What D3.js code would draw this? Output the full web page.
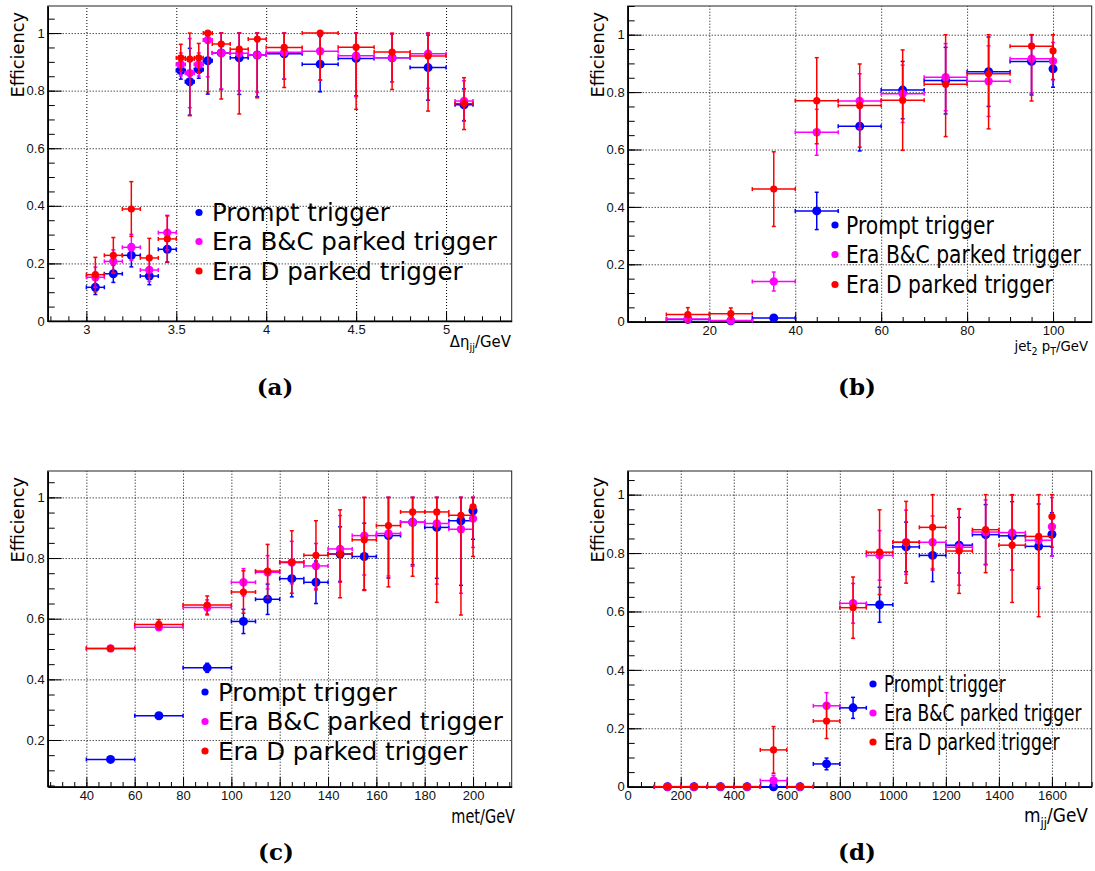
<!DOCTYPE html>
<html>
<head>
<meta charset="utf-8">
<script src="https://cdn.jsdelivr.net/npm/d3@7"></script>
<style>
  html, body { margin: 0; padding: 0; background: #fff; }
  svg { display: block; }
  .tick text { font-family: "Liberation Sans", Arial, sans-serif; font-size: 13px; fill: #111; }
</style>
</head>
<body>
<svg id="fig" width="1095" height="871"></svg>
<script>
// ---------- shared ----------
const seriesLabels = ["Prompt trigger", "Era B&C parked trigger", "Era D parked trigger"];
const seriesColors = ["#0000ff", "#ff00ff", "#ff0000"];
const effTicks = [0, 0.2, 0.4, 0.6, 0.8, 1];

// ---------- (a) Δη_jj ----------
const detaTicks = [3, 3.5, 4, 4.5, 5];
const detaCentres = [3.05, 3.15, 3.25, 3.35, 3.45, 3.525, 3.575, 3.625, 3.675, 3.75, 3.85, 3.95, 4.1, 4.3, 4.5, 4.7, 4.9, 5.1];
const detaHalf    = [0.05, 0.05, 0.05, 0.05, 0.05, 0.025, 0.025, 0.025, 0.025, 0.05, 0.05, 0.05, 0.1, 0.1, 0.1, 0.1, 0.1, 0.05];
const detaPrompt    = [0.117, 0.164, 0.228, 0.156, 0.249, 0.870, 0.831, 0.873, 0.904, 0.931, 0.914, 0.924, 0.928, 0.892, 0.912, 0.914, 0.880, 0.751];
const detaPromptErr = [0.025, 0.030, 0.040, 0.030, 0.045, 0.030, 0.116, 0.030, 0.116, 0.127, 0.127, 0.145, 0.088, 0.096, 0.130, 0.083, 0.113, 0.055];
const detaBC        = [0.152, 0.207, 0.256, 0.177, 0.307, 0.891, 0.861, 0.891, 0.976, 0.931, 0.930, 0.924, 0.933, 0.937, 0.921, 0.914, 0.928, 0.764];
const detaBCErr     = [0.035, 0.040, 0.045, 0.040, 0.060, 0.040, 0.120, 0.040, 0.128, 0.125, 0.130, 0.130, 0.093, 0.100, 0.142, 0.083, 0.120, 0.070];
const detaD         = [0.161, 0.228, 0.389, 0.219, 0.285, 0.914, 0.910, 0.914, 1.000, 0.962, 0.944, 0.979, 0.950, 1.000, 0.951, 0.934, 0.920, 0.755];
const detaDErr      = [0.060, 0.062, 0.095, 0.068, 0.080, 0.047, 0.197, 0.050, 0.204, 0.191, 0.225, 0.204, 0.139, 0.163, 0.216, 0.130, 0.191, 0.090];

// ---------- (b) jet2 pT ----------
const jetTicks = [20, 40, 60, 80, 100];
const jetCentres = [15, 25, 35, 45, 55, 65, 75, 85, 95, 100];
const jetHalf    = [5, 5, 5, 5, 5, 5, 5, 5, 5, 0];
const jetPrompt    = [0.008, 0.003, 0.013, 0.386, 0.681, 0.807, 0.840, 0.871, 0.907, 0.881];
const jetPromptErr = [0.005, 0.004, 0.005, 0.065, 0.086, 0.100, 0.116, 0.121, 0.117, 0.064];
const jetBC        = [0.009, 0.004, 0.140, 0.660, 0.769, 0.794, 0.852, 0.838, 0.916, 0.908];
const jetBCErr     = [0.008, 0.006, 0.033, 0.080, 0.095, 0.100, 0.117, 0.123, 0.120, 0.065];
const jetD         = [0.025, 0.028, 0.462, 0.770, 0.753, 0.772, 0.827, 0.864, 0.960, 0.944];
const jetDErr      = [0.024, 0.020, 0.130, 0.150, 0.145, 0.175, 0.182, 0.192, 0.191, 0.100];

// ---------- (c) met ----------
const metTicks = [40, 60, 80, 100, 120, 140, 160, 180, 200];
const metCentres = [50, 70, 90, 105, 115, 125, 135, 145, 155, 165, 175, 185, 195, 200];
const metHalf    = [10, 10, 10, 5, 5, 5, 5, 5, 5, 5, 5, 5, 5, 0];
const metPrompt    = [0.136, 0.280, 0.438, 0.591, 0.664, 0.732, 0.720, 0.813, 0.805, 0.874, 0.918, 0.901, 0.923, 0.956];
const metPromptErr = [0.004, 0.005, 0.015, 0.040, 0.050, 0.060, 0.070, 0.090, 0.110, 0.140, 0.140, 0.168, 0.213, 0.094];
const metBC        = [0.502, 0.572, 0.637, 0.720, 0.753, 0.785, 0.774, 0.830, 0.874, 0.881, 0.918, 0.914, 0.895, 0.930];
const metBCErr     = [0.005, 0.010, 0.025, 0.045, 0.055, 0.070, 0.074, 0.110, 0.130, 0.140, 0.145, 0.200, 0.211, 0.095];
const metD         = [0.502, 0.581, 0.645, 0.688, 0.757, 0.787, 0.809, 0.814, 0.860, 0.907, 0.952, 0.952, 0.941, 0.969];
const metDErr      = [0.006, 0.016, 0.030, 0.070, 0.088, 0.103, 0.114, 0.145, 0.167, 0.202, 0.212, 0.298, 0.329, 0.164];

// ---------- (d) m_jj ----------
const mjjTicks = [0, 200, 400, 600, 800, 1000, 1200, 1400, 1600];
const mjjCentres = [150, 250, 350, 450, 550, 650, 750, 850, 950, 1050, 1150, 1250, 1350, 1450, 1550, 1600];
const mjjHalf    = [50, 50, 50, 50, 50, 50, 50, 50, 50, 50, 50, 50, 50, 50, 50, 0];
const mjjPrompt    = [0, 0, 0, 0, 0, 0, 0.078, 0.270, 0.623, 0.821, 0.792, 0.827, 0.863, 0.859, 0.823, 0.864];
const mjjPromptErr = [0, 0, 0, 0, 0.003, 0, 0.020, 0.036, 0.060, 0.085, 0.090, 0.095, 0.103, 0.117, 0.145, 0.074];
const mjjBC        = [0, 0, 0, 0, 0.021, 0, 0.277, 0.628, 0.792, 0.837, 0.837, 0.820, 0.872, 0.870, 0.844, 0.890];
const mjjBCErr     = [0, 0, 0, 0, 0.018, 0, 0.045, 0.068, 0.085, 0.110, 0.090, 0.130, 0.110, 0.128, 0.160, 0.100];
const mjjD         = [0, 0, 0, 0, 0.126, 0, 0.225, 0.613, 0.803, 0.837, 0.888, 0.807, 0.880, 0.827, 0.857, 0.925];
const mjjDErr      = [0, 0, 0, 0, 0.080, 0, 0.060, 0.105, 0.145, 0.140, 0.146, 0.145, 0.147, 0.196, 0.275, 0.105];

// ---------- drawing ----------
const svg = d3.select("#fig");
const fmt = d => String(+(+d).toFixed(2));
const markerR = [4.5, 4.2, 3.6];

// place a text so that it spans a given width (horizontal compression of the glyphs)
function fitText(parent, build, width, tx, ty, rotate) {
  const g = parent.append("g");
  const t = g.append("text");
  build(t);
  const w = t.node().getBBox().width;
  const s = width / w;
  g.attr("transform", `translate(${tx},${ty})` + (rotate ? ` rotate(${rotate})` : "") + ` scale(${s},1)`);
  return g;
}

function range(a, b, step) {
  const out = [];
  for (let v = a; v <= b + 1e-9; v += step) out.push(+v.toFixed(6));
  return out;
}

function drawPanel(p) {
  const g = svg.append("g");
  const x = d3.scaleLinear().domain(p.xDomain).range([p.left, p.right]);
  const y = d3.scaleLinear().domain(p.yDomain).range([p.bottom, p.top]);
  const W = p.right - p.left, H = p.bottom - p.top;

  // dotted grid at the major ticks
  g.append("g").attr("transform", `translate(0,${p.bottom})`)
    .call(d3.axisBottom(x).tickValues(p.xTicks).tickSize(-H).tickFormat(""))
    .call(s => { s.select(".domain").remove();
      s.selectAll("line").attr("stroke", "#000").attr("stroke-width", 1).attr("stroke-dasharray", "1,2"); });
  g.append("g").attr("transform", `translate(${p.left},0)`)
    .call(d3.axisLeft(y).tickValues(p.yTicks).tickSize(-W).tickFormat(""))
    .call(s => { s.select(".domain").remove();
      s.selectAll("line").attr("stroke", "#000").attr("stroke-width", 1).attr("stroke-dasharray", "1,2"); });

  // frame
  g.append("rect").attr("x", p.left).attr("y", p.top).attr("width", W).attr("height", H)
    .attr("fill", "none").attr("stroke", "#222").attr("stroke-width", 1);

  // minor ticks
  const xMinor = range(p.xMinor[0], p.xMinor[1], p.xMinor[2]).filter(v => v >= p.xDomain[0] && v <= p.xDomain[1]);
  const yMinor = range(0, 1.1, 0.05).filter(v => v >= p.yDomain[0] && v <= p.yDomain[1]);
  g.append("g").attr("transform", `translate(0,${p.bottom})`)
    .call(d3.axisBottom(x).tickValues(xMinor).tickSizeInner(-4.7).tickSizeOuter(0).tickFormat(""))
    .call(s => { s.select(".domain").remove(); s.selectAll("line").attr("stroke", "#000"); });
  g.append("g").attr("transform", `translate(${p.left},0)`)
    .call(d3.axisLeft(y).tickValues(yMinor).tickSizeInner(-7).tickSizeOuter(0).tickFormat(""))
    .call(s => { s.select(".domain").remove(); s.selectAll("line").attr("stroke", "#000"); });

  // major ticks with labels
  g.append("g").attr("transform", `translate(0,${p.bottom})`)
    .call(d3.axisBottom(x).tickValues(p.xTicks).tickSizeInner(-9.5).tickSizeOuter(0).tickPadding(4).tickFormat(fmt))
    .call(s => { s.select(".domain").attr("stroke", "#000").attr("stroke-width", 1.6);
      s.selectAll("line").attr("stroke", "#000"); });
  g.append("g").attr("transform", `translate(${p.left},0)`)
    .call(d3.axisLeft(y).tickValues(p.yTicks).tickSizeInner(-14).tickSizeOuter(0).tickPadding(3).tickFormat(fmt))
    .call(s => { s.select(".domain").attr("stroke", "#000").attr("stroke-width", 1.6);
      s.selectAll("line").attr("stroke", "#000"); });

  // efficiency points with error bars
  const yLo = Math.max(0, p.yDomain[0]);
  p.series.forEach((ser, k) => {
    const pts = p.centres.map((c, i) => ({
      c, h: p.half[i], v: ser.vals[i],
      lo: Math.max(yLo, ser.vals[i] - ser.errs[i]),
      hi: Math.min(1, ser.vals[i] + ser.errs[i])
    }));
    const sg = g.append("g").attr("stroke", seriesColors[k]).attr("fill", seriesColors[k]).attr("stroke-width", 1.5);
    const cap = 2;
    // horizontal bin width
    sg.selectAll("line.h").data(pts.filter(d => d.h > 0)).join("line").attr("class", "h")
      .attr("x1", d => x(d.c - d.h)).attr("x2", d => x(d.c + d.h))
      .attr("y1", d => y(d.v)).attr("y2", d => y(d.v));
    sg.selectAll("line.hc1").data(pts.filter(d => d.h > 0)).join("line").attr("class", "hc1")
      .attr("x1", d => x(d.c - d.h)).attr("x2", d => x(d.c - d.h))
      .attr("y1", d => y(d.v) - cap).attr("y2", d => y(d.v) + cap);
    sg.selectAll("line.hc2").data(pts.filter(d => d.h > 0)).join("line").attr("class", "hc2")
      .attr("x1", d => x(d.c + d.h)).attr("x2", d => x(d.c + d.h))
      .attr("y1", d => y(d.v) - cap).attr("y2", d => y(d.v) + cap);
    // vertical uncertainty
    const ve = pts.filter(d => d.hi - d.lo > 0.001);
    sg.selectAll("line.v").data(ve).join("line").attr("class", "v")
      .attr("x1", d => x(d.c)).attr("x2", d => x(d.c))
      .attr("y1", d => y(d.lo)).attr("y2", d => y(d.hi));
    sg.selectAll("line.vc1").data(ve).join("line").attr("class", "vc1")
      .attr("x1", d => x(d.c) - cap).attr("x2", d => x(d.c) + cap)
      .attr("y1", d => y(d.lo)).attr("y2", d => y(d.lo));
    sg.selectAll("line.vc2").data(ve).join("line").attr("class", "vc2")
      .attr("x1", d => x(d.c) - cap).attr("x2", d => x(d.c) + cap)
      .attr("y1", d => y(d.hi)).attr("y2", d => y(d.hi));
    sg.selectAll("circle").data(pts).join("circle")
      .attr("cx", d => x(d.c)).attr("cy", d => y(d.v)).attr("r", markerR[k]).attr("stroke", "none");
  });

  // legend
  const L = p.legend;
  seriesLabels.forEach((lab, k) => {
    const cy = L.rows[k];
    g.append("circle").attr("cx", L.mx).attr("cy", cy).attr("r", 3.6).attr("fill", seriesColors[k]);
    fitText(g, t => t.text(lab).attr("font-family", "DejaVu Sans").attr("font-size", L.fs).attr("fill", "#000"),
      L.widths[k], L.tx, cy + L.fs * 0.36);
  });

  // y title
  fitText(g, t => t.text("Efficiency").attr("font-family", "DejaVu Sans").attr("font-size", 18)
      .attr("text-anchor", "end").attr("fill", "#000"),
    86, p.left - 23.7, p.top + 6, -90);

  // x title
  fitText(g, t => { p.xTitle(t); t.attr("text-anchor", "end").attr("fill", "#000"); },
    p.xTitleWidth, p.xTitleRight, p.xTitleBase);

  // caption
  svg.append("text").attr("x", p.capX).attr("y", p.capY).attr("text-anchor", "middle")
    .attr("font-family", "DejaVu Serif").attr("font-weight", "bold").attr("font-size", 23)
    .attr("fill", "#000").text(p.caption);
}

drawPanel({
  left: 47.7, right: 511.7, top: 6, bottom: 321,
  xDomain: [2.785, 5.365], yDomain: [0, 1.094],
  xTicks: detaTicks, yTicks: effTicks, xMinor: [2.8, 5.3, 0.1],
  centres: detaCentres, half: detaHalf,
  series: [
    { vals: detaPrompt, errs: detaPromptErr },
    { vals: detaBC, errs: detaBCErr },
    { vals: detaD, errs: detaDErr }
  ],
  legend: { mx: 199, tx: 212, rows: [212.5, 241.5, 271], widths: [178, 285, 251], fs: 24 },
  xTitle: t => {
    t.attr("font-family", "DejaVu Sans").attr("font-size", 15);
    t.append("tspan").text("Δη");
    t.append("tspan").attr("font-size", 10).attr("dy", 4).text("jj");
    t.append("tspan").attr("dy", -4).text("/GeV");
  },
  xTitleWidth: 62, xTitleRight: 511, xTitleBase: 347,
  caption: "(a)", capX: 275, capY: 395
});

drawPanel({
  left: 627.7, right: 1091.7, top: 6, bottom: 321.7,
  xDomain: [1, 109], yDomain: [0, 1.1],
  xTicks: jetTicks, yTicks: effTicks, xMinor: [5, 105, 5],
  centres: jetCentres, half: jetHalf,
  series: [
    { vals: jetPrompt, errs: jetPromptErr },
    { vals: jetBC, errs: jetBCErr },
    { vals: jetD, errs: jetDErr }
  ],
  legend: { mx: 835, tx: 846, rows: [225, 254.5, 284.5], widths: [148, 235, 207], fs: 24 },
  xTitle: t => {
    t.attr("font-family", "DejaVu Sans").attr("font-size", 14);
    t.append("tspan").text("jet");
    t.append("tspan").attr("font-size", 10).attr("dy", 4).text("2");
    t.append("tspan").attr("dy", -4).text(" p");
    t.append("tspan").attr("font-size", 10).attr("dy", 4).text("T");
    t.append("tspan").attr("dy", -4).text("/GeV");
  },
  xTitleWidth: 75, xTitleRight: 1088, xTitleBase: 351,
  caption: "(b)", capX: 857, capY: 395
});

drawPanel({
  left: 47.7, right: 511.7, top: 471, bottom: 786.7,
  xDomain: [24, 216], yDomain: [0.046, 1.087],
  xTicks: metTicks, yTicks: effTicks.filter(v => v > 0), xMinor: [25, 215, 5],
  centres: metCentres, half: metHalf,
  series: [
    { vals: metPrompt, errs: metPromptErr },
    { vals: metBC, errs: metBCErr },
    { vals: metD, errs: metDErr }
  ],
  legend: { mx: 205, tx: 218, rows: [692, 721.5, 751], widths: [179, 285, 250], fs: 24 },
  xTitle: t => {
    t.attr("font-family", "DejaVu Sans").attr("font-size", 20).text("met/GeV");
  },
  xTitleWidth: 64, xTitleRight: 515, xTitleBase: 823,
  caption: "(c)", capX: 276, capY: 860
});

drawPanel({
  left: 627.7, right: 1091.7, top: 471, bottom: 786.7,
  xDomain: [0, 1750], yDomain: [0, 1.081],
  xTicks: mjjTicks, yTicks: effTicks, xMinor: [50, 1750, 50],
  centres: mjjCentres, half: mjjHalf,
  series: [
    { vals: mjjPrompt, errs: mjjPromptErr },
    { vals: mjjBC, errs: mjjBCErr },
    { vals: mjjD, errs: mjjDErr }
  ],
  legend: { mx: 873, tx: 884, rows: [684, 713, 742], widths: [122, 198, 176], fs: 23 },
  xTitle: t => {
    t.attr("font-family", "DejaVu Sans").attr("font-size", 19);
    t.append("tspan").text("m");
    t.append("tspan").attr("font-size", 13).attr("dy", 5).text("jj");
    t.append("tspan").attr("dy", -5).text("/GeV");
  },
  xTitleWidth: 64, xTitleRight: 1088, xTitleBase: 822,
  caption: "(d)", capX: 857, capY: 860
});
</script>
</body>
</html>
